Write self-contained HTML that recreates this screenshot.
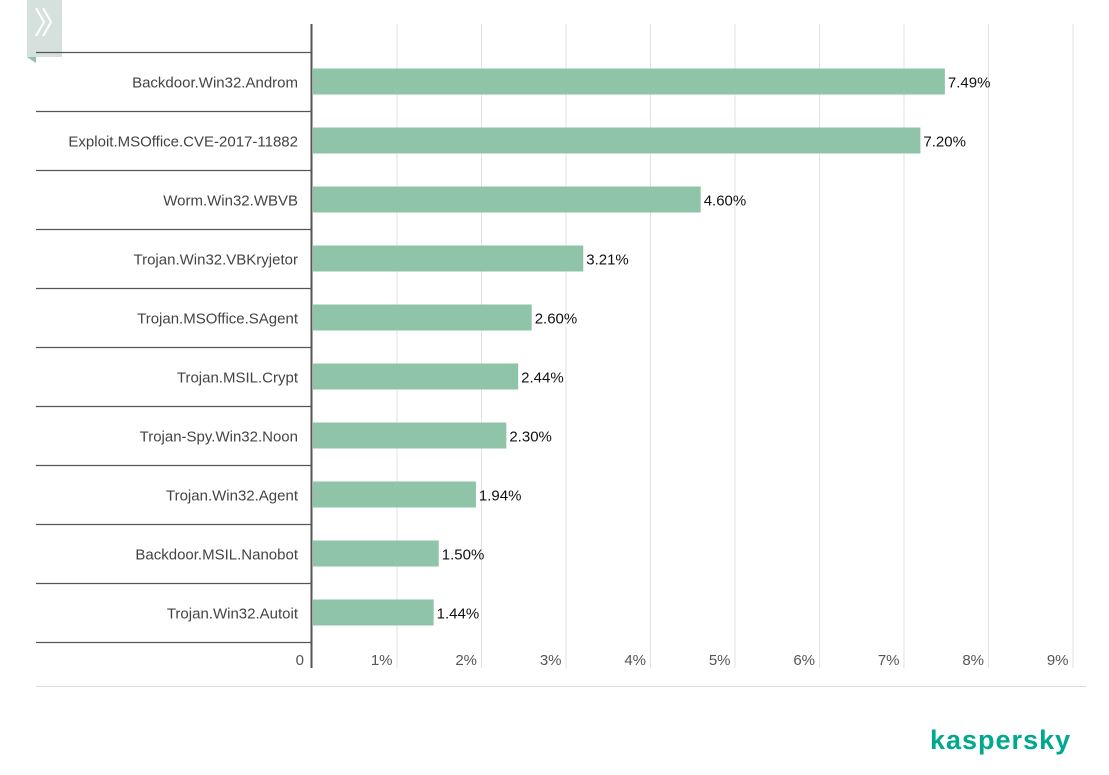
<!DOCTYPE html>
<html><head><meta charset="utf-8"><style>
body{margin:0;background:#fff;font-family:"Liberation Sans",sans-serif}
</style></head><body>
<svg width="1109" height="770" xmlns="http://www.w3.org/2000/svg">
<g>
<rect x="27" y="0" width="35" height="57" fill="#d6e1de"/>
<polygon points="27,57 36,57 36,63" fill="#8fc4a8"/>
<polyline points="36,8 44,22 36,36" fill="none" stroke="#fff" stroke-width="2"/>
<polyline points="43,8 51,22 43,36" fill="none" stroke="#fff" stroke-width="2"/>
</g>
<g id="grid"></g><g id="rows"></g><g id="bars"></g>
<line x1="311.5" y1="24" x2="311.5" y2="668" stroke="#555" stroke-width="2"/>
<line x1="36" y1="686.5" x2="1086" y2="686.5" stroke="#ddd"/>
<text x="930" y="749" font-size="27" fill="#00a88e" font-weight="bold" letter-spacing="1" style="font-weight:600">kaspersky</text>
</svg>
<script>
const categories=["Backdoor.Win32.Androm","Exploit.MSOffice.CVE-2017-11882","Worm.Win32.WBVB","Trojan.Win32.VBKryjetor","Trojan.MSOffice.SAgent","Trojan.MSIL.Crypt","Trojan-Spy.Win32.Noon","Trojan.Win32.Agent","Backdoor.MSIL.Nanobot","Trojan.Win32.Autoit"];
const values=[7.49,7.20,4.60,3.21,2.60,2.44,2.30,1.94,1.50,1.44];
const ticks=[1,2,3,4,5,6,7,8,9];
const NS="http://www.w3.org/2000/svg";
const x0=312,unit=84.5,top0=52,rowH=59;
const xs=v=>x0+v*unit;
function mk(t,a,p){const e=document.createElementNS(NS,t);for(const k in a)e.setAttribute(k,a[k]);p.appendChild(e);return e;}
const G=document.getElementById('grid'),R=document.getElementById('rows'),B=document.getElementById('bars');
ticks.forEach(t=>{
 const l=mk('line',{x1:xs(t)+0.5,x2:xs(t)+0.5,y1:24,y2:668,stroke:'#e2e2e2'},G);
 
 
 const tx=mk('text',{x:xs(t)-4,y:665,'font-size':15,fill:'#555','text-anchor':'end'},G);
 tx.textContent=t+'%';
 
 
});
const z=mk('text',{x:304,y:665,'font-size':15,fill:'#555','text-anchor':'end'},G);z.textContent='0';


for(let i=0;i<=categories.length;i++){
 const l=mk('line',{x1:36,x2:311,y1:top0+i*rowH+0.5,y2:top0+i*rowH+0.5,stroke:'#555','stroke-width':1.3},R);
 
 
}
categories.forEach((c,i)=>{
 const cy=top0+i*rowH+29.5;
 const t=mk('text',{x:298,y:cy+6,'font-size':15,fill:'#444','text-anchor':'end'},R);t.textContent=c;
 
 
 const b=mk('rect',{x:x0+1,y:cy-13,width:xs(values[i])-x0-1,height:26,fill:'#8fc4a8'},B);
 
 
 const v=mk('text',{x:xs(values[i])+3,y:cy+6,'font-size':15,fill:'#111'},B);v.textContent=values[i].toFixed(2)+'%';
 
 
});
</script>
</body></html>
